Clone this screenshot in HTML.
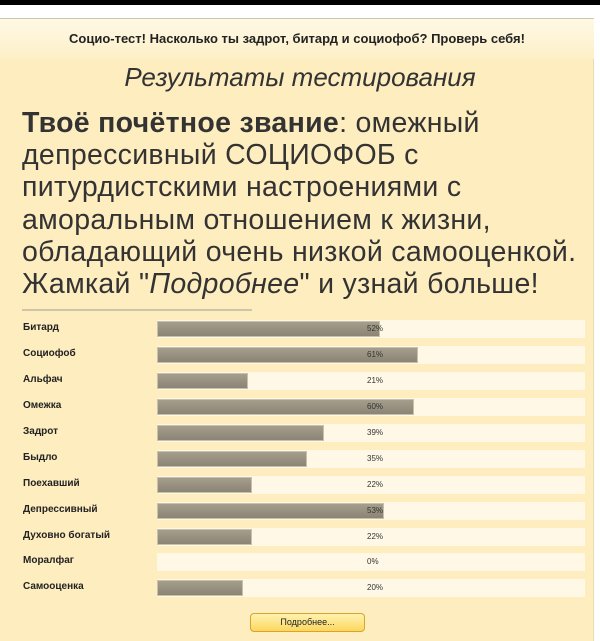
<!DOCTYPE html>
<html><head><meta charset="utf-8"><style>
*{margin:0;padding:0;box-sizing:border-box}
body{width:600px;height:641px;overflow:hidden;background:#fff;font-family:"Liberation Sans",sans-serif;position:relative}
.top{position:absolute;left:0;top:0;width:600px;height:5px;background:#000}
.panel{position:absolute;left:0;top:18px;width:594px;height:623px;background:#fdedbf;border-top:1px solid #cfc7a8;border-right:1px solid #e8dcb0}
.hdr{position:absolute;left:0;top:19px;width:594px;height:40px;background:linear-gradient(#fef9e6,#fdf0c8);text-align:center;font-weight:bold;font-size:13px;line-height:40px;color:#222}
.title{position:absolute;left:0;top:62px;width:600px;text-align:center;font-style:italic;font-size:26px;color:#333}
.main{position:absolute;left:22px;top:107px;font-size:28.5px;line-height:32.2px;color:#333;white-space:nowrap;letter-spacing:0.3px}
.sep{position:absolute;left:22px;top:309px;width:230px;height:2px;background:#cfc6a8}
.row{position:absolute;left:0;width:600px;height:18px}
.lbl{position:absolute;left:23px;top:2px;font-size:10px;font-weight:bold;color:#222}
.trk{position:absolute;left:157px;top:0;width:428px;height:18px;background:#fff8e6}
.bar{position:absolute;left:157px;top:1px;height:16px;background:linear-gradient(#a59e8d,#8b8474);border:1px solid #c9c0a8}
.pct{position:absolute;left:367px;top:4px;font-size:8px;color:#333}
.btn{position:absolute;left:250px;top:613px;width:115px;height:19px;border:1px solid #d9a528;border-radius:4px;background:linear-gradient(#fff3b0,#fcd760);text-align:center;font-size:9px;line-height:17px;color:#222}
</style></head><body>
<div class="top"></div>
<div class="panel"></div>
<div class="hdr">Социо-тест! Насколько ты задрот, битард и социофоб? Проверь себя!</div>
<div class="title">Результаты тестирования</div>
<div class="main"><b>Твоё почётное звание</b>: омежный<br>депрессивный СОЦИОФОБ с<br>питурдистскими настроениями с<br>аморальным отношением к жизни,<br>обладающий очень низкой самооценкой.<br>Жамкай "<i>Подробнее</i>" и узнай больше!</div>
<div class="sep"></div>

<div class="row" style="top:320px"><div class="lbl">Битард</div><div class="trk"></div><div class="bar" style="width:223px"></div><div class="pct">52%</div></div>
<div class="row" style="top:346px"><div class="lbl">Социофоб</div><div class="trk"></div><div class="bar" style="width:261px"></div><div class="pct">61%</div></div>
<div class="row" style="top:372px"><div class="lbl">Альфач</div><div class="trk"></div><div class="bar" style="width:91px"></div><div class="pct">21%</div></div>
<div class="row" style="top:398px"><div class="lbl">Омежка</div><div class="trk"></div><div class="bar" style="width:257px"></div><div class="pct">60%</div></div>
<div class="row" style="top:424px"><div class="lbl">Задрот</div><div class="trk"></div><div class="bar" style="width:167px"></div><div class="pct">39%</div></div>
<div class="row" style="top:450px"><div class="lbl">Быдло</div><div class="trk"></div><div class="bar" style="width:150px"></div><div class="pct">35%</div></div>
<div class="row" style="top:476px"><div class="lbl">Поехавший</div><div class="trk"></div><div class="bar" style="width:95px"></div><div class="pct">22%</div></div>
<div class="row" style="top:502px"><div class="lbl">Депрессивный</div><div class="trk"></div><div class="bar" style="width:227px"></div><div class="pct">53%</div></div>
<div class="row" style="top:528px"><div class="lbl">Духовно богатый</div><div class="trk"></div><div class="bar" style="width:95px"></div><div class="pct">22%</div></div>
<div class="row" style="top:553px"><div class="lbl">Моралфаг</div><div class="trk"></div><div class="pct">0%</div></div>
<div class="row" style="top:579px"><div class="lbl">Самооценка</div><div class="trk"></div><div class="bar" style="width:86px"></div><div class="pct">20%</div></div>

<div class="btn">Подробнее...</div>
</body></html>
